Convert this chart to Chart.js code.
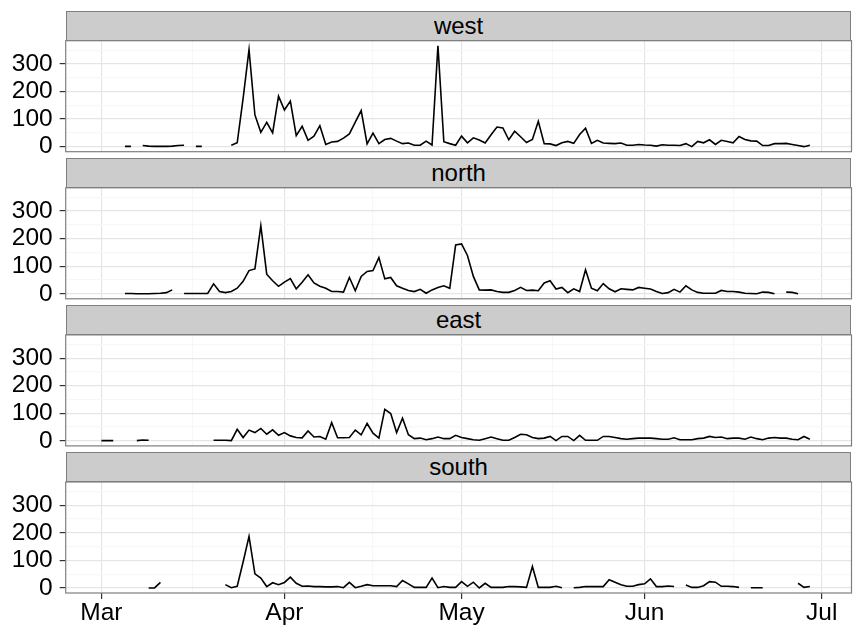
<!DOCTYPE html>
<html>
<head>
<meta charset="utf-8">
<title>Daily counts by region</title>
<script src="https://cdn.jsdelivr.net/npm/chart.js@4.4.1/dist/chart.umd.min.js"></script>
<style>
  html, body { margin: 0; padding: 0; background: #ffffff; }
  #wrap { position: relative; width: 857px; height: 636px; overflow: hidden; }
  #wrap canvas { position: absolute; left: 0; top: 0; }
  .strip {
    position: absolute;
    box-sizing: border-box;
    background: #cccccc;
    border: 1px solid #7f7f7f;
    font-family: "Liberation Sans", Arial, sans-serif;
    font-size: 24px;
    color: #000000;
    text-align: center;
    line-height: 27px;
  }
</style>
</head>
<body>
<div id="wrap"></div>
<script>
// one value per day, Mar 1 .. Jun 30 (null = no data)
var regions = ["west", "north", "east", "south"];

var westValues = [
  null, null, null, null, 1, 1, null, 4, 2, 1, 1, 1, 2, 4, 5, null,
  1, 1, null, null, null, null, 5, 14, 175, 352, 115, 52, 88, 50, 183,
  133, 165, 40, 74, 23, 38, 76, 8, 17, 19, 31, 46, 89, 131, 10, 49, 11, 26, 30, 20, 11, 13, 5, 5, 20, 6, 366, 18, 11, 5,
  38, 14, 32, 24, 13, 43, 71, 68, 25, 56, 36, 15, 26, 92, 11, 10, 4, 14, 19, 12, 44, 67, 12, 23, 13, 12, 11, 13, 5, 5, 8,
  6, 5, 2, 7, 5, 5, 4, 11, 0, 19, 14, 25, 8, 23, 19, 14, 37, 26, 21, 20, 4, 4, 11, 11, 12, 8, 4, 0, 5, null
];

var northValues = [
  null, null, null, null, 1, 1, 0, 0, 0, 1, 2, 4, 14, null, 1, 1,
  1, 1, 1, 36, 8, 4, 8, 20, 45, 84, 90, 247, 71, 47, 27,
  42, 55, 18, 42, 69, 39, 27, 20, 8, 8, 6, 59, 11, 63, 81, 84, 131, 54, 59, 29, 20, 12, 8, 16, 2, 14, 23, 29, 20,
  177, 181, 139, 63, 14, 13, 14, 8, 5, 5, 12, 23, 12, 13, 11, 39, 47, 17, 23, 4, 18, 8, 87, 20, 11, 37, 18, 7, 18, 16, 14,
  23, 20, 17, 8, 1, 4, 16, 6, 29, 14, 5, 2, 2, 2, 12, 8, 8, 6, 2, 1, 0, 6, 5, 0, null, 6, 5, 0, null, null, null
];

var eastValues = [
  1, 1, 1, null, null, null, 1, 3, 2, null, null, null, null, null, null, null,
  null, null, null, 2, 2, 2, 1, 42, 12, 39, 30, 45, 24, 40, 20,
  30, 18, 12, 11, 36, 14, 16, 6, 66, 11, 11, 12, 39, 22, 63, 28, 10, 114, 99, 30, 82, 22, 8, 10, 4, 8, 14, 8, 8,
  20, 12, 8, 4, 2, 8, 14, 8, 2, 2, 12, 24, 22, 12, 8, 10, 16, 1, 16, 16, 1, 20, 2, 2, 2, 16, 16, 12, 8, 6, 8,
  10, 10, 10, 8, 6, 6, 11, 4, 4, 4, 8, 10, 16, 12, 14, 8, 10, 10, 6, 14, 8, 4, 10, 12, 10, 10, 6, 4, 16, 6, null
];

var southValues = [
  null, null, null, null, null, null, null, null, 0, 0, 20, null, null, null, null, null,
  null, null, null, null, null, 12, 1, 6, 94, 187, 51, 36, 5, 19, 12,
  20, 39, 17, 6, 7, 5, 5, 4, 4, 5, 1, 20, 1, 6, 12, 8, 8, 8, 8, 5, 27, 15, 2, 2, 2, 36, 1, 5, 2,
  2, 23, 6, 21, 0, 17, 2, 2, 2, 5, 5, 4, 2, 78, 2, 2, 2, 6, 1, null, 1, 2, 5, 5, 5, 5, 30, 21, 12, 6, 6,
  12, 15, 33, 5, 5, 7, 5, null, 11, 2, 2, 8, 23, 21, 6, 6, 5, 2, null, 1, 1, 1, null, null, null, null, null, 17, 2, 5, null
];

var seriesByRegion = [westValues, northValues, eastValues, southValues];

var monthLabels = ["Mar", "Apr", "May", "Jun", "Jul"];
var yTickLabels = [0, 100, 200, 300];

// layout of the facet grid, page pixels
var pageWidth = 857;
var pageHeight = 636;
var panelLeft = 65.7;
var panelRight = 851.5;
var firstStripTop = 10.7;
var stripHeight = 30;
var plotHeight = 111;
var panelStep = 147.1;

var tickFont = { family: "'Liberation Sans', Arial, sans-serif", size: 24.5 };

// day offsets of month starts, counted from Mar 1
var monthDays = monthLabels.map(function (m, i) {
  return (Date.UTC(2013, 2 + i, 1) - Date.UTC(2013, 2, 1)) / 86400000;
});
var minorDays = [];
for (var k = 0; k < monthDays.length - 1; k++) {
  minorDays.push((monthDays[k] + monthDays[k + 1]) / 2);
}
var yMinor = [50, 150, 250, 350];

var panelBorder = {
  id: "panelBorder",
  afterDraw: function (chart) {
    var a = chart.chartArea;
    var ctx = chart.ctx;
    ctx.save();
    ctx.strokeStyle = "#7f7f7f";
    ctx.lineWidth = 1.2;
    ctx.strokeRect(a.left, a.top, a.right - a.left, a.bottom - a.top);
    ctx.restore();
  },
};

function isMajor(list, value) {
  return list.indexOf(value) !== -1;
}

function drawPanel(i) {
  var wrap = document.getElementById("wrap");
  var isLast = i === regions.length - 1;
  var stripTop = firstStripTop + i * panelStep;
  var plotTop = stripTop + stripHeight;
  var plotBottom = plotTop + plotHeight;

  var strip = document.createElement("div");
  strip.className = "strip";
  strip.style.left = panelLeft + "px";
  strip.style.top = stripTop + "px";
  strip.style.width = (panelRight - panelLeft) + "px";
  strip.style.height = stripHeight + "px";
  strip.textContent = regions[i];

  var canvas = document.createElement("canvas");
  canvas.width = pageWidth;
  canvas.height = pageHeight;
  canvas.style.width = pageWidth + "px";
  canvas.style.height = pageHeight + "px";
  wrap.appendChild(canvas);
  wrap.appendChild(strip);

  var points = seriesByRegion[i].map(function (v, d) {
    return { x: d, y: v };
  });

  new Chart(canvas, {
    type: "line",
    data: {
      datasets: [
        {
          label: regions[i],
          data: points,
          borderColor: "#000000",
          borderWidth: 1.6,
          pointRadius: 0,
          tension: 0,
          spanGaps: false,
        },
      ],
    },
    options: {
      responsive: false,
      animation: false,
      devicePixelRatio: 1,
      layout: {
        padding: {
          top: plotTop,
          left: 0,
          right: pageWidth - panelRight,
          bottom: isLast ? 0 : pageHeight - plotBottom,
        },
      },
      plugins: {
        legend: { display: false },
        tooltip: { enabled: false },
      },
      scales: {
        x: {
          type: "linear",
          min: -6.05,
          max: 127.05,
          border: { display: false },
          afterBuildTicks: function (scale) {
            scale.ticks = monthDays.concat(minorDays).map(function (v) {
              return { value: v };
            });
          },
          afterFit: function (scale) {
            scale.height = isLast ? pageHeight - plotBottom : 0;
            scale.paddingLeft = 0;
            scale.paddingRight = 0;
          },
          grid: {
            color: function (ctx) {
              return isMajor(monthDays, ctx.tick.value) ? "#e5e5e5" : "#f7f7f7";
            },
            lineWidth: 1.2,
            drawTicks: isLast,
            tickLength: 6,
            tickWidth: 1.2,
            tickColor: function (ctx) {
              return isMajor(monthDays, ctx.tick.value) ? "#333333" : "rgba(0,0,0,0)";
            },
          },
          ticks: {
            display: isLast,
            autoSkip: false,
            maxRotation: 0,
            padding: 0,
            color: "#000000",
            font: tickFont,
            callback: function (value) {
              var idx = monthDays.indexOf(value);
              return idx === -1 ? "" : monthLabels[idx];
            },
          },
        },
        y: {
          type: "linear",
          min: -18.3,
          max: 384.3,
          border: { display: false },
          afterBuildTicks: function (scale) {
            scale.ticks = yTickLabels.concat(yMinor).map(function (v) {
              return { value: v };
            });
          },
          afterFit: function (scale) {
            scale.width = panelLeft;
          },
          grid: {
            color: function (ctx) {
              return isMajor(yTickLabels, ctx.tick.value) ? "#e5e5e5" : "#f7f7f7";
            },
            lineWidth: 1.2,
            tickLength: 6,
            tickWidth: 1.2,
            tickColor: function (ctx) {
              return isMajor(yTickLabels, ctx.tick.value) ? "#333333" : "rgba(0,0,0,0)";
            },
          },
          ticks: {
            autoSkip: false,
            padding: 7,
            color: "#000000",
            font: tickFont,
            callback: function (value) {
              return isMajor(yTickLabels, value) ? String(value) : "";
            },
          },
        },
      },
    },
    plugins: [panelBorder],
  });
}

for (var i = 0; i < regions.length; i++) {
  drawPanel(i);
}
</script>
</body>
</html>
